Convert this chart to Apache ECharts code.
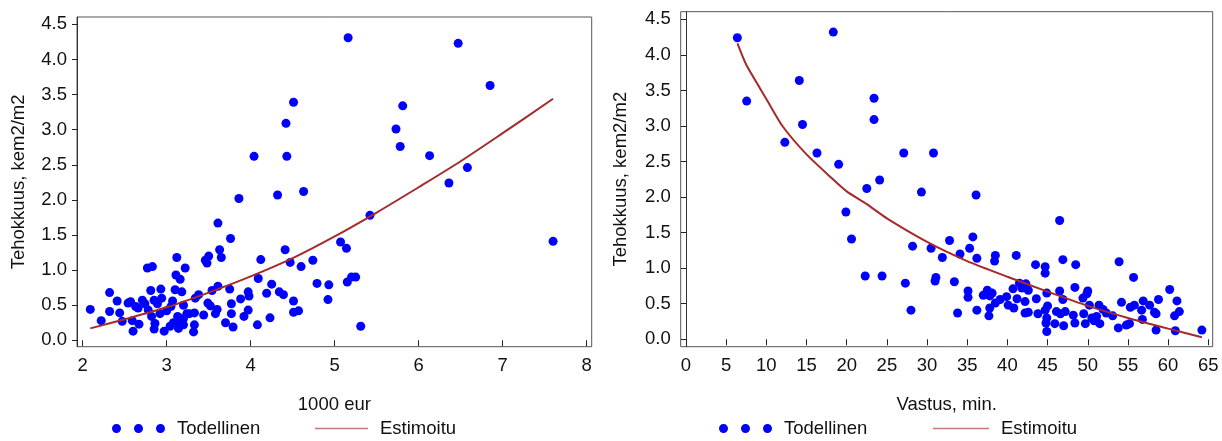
<!DOCTYPE html>
<html>
<head>
<meta charset="utf-8">
<script src="https://cdn.jsdelivr.net/npm/echarts@6/dist/echarts.min.js"></script>
<style>
  html, body { margin: 0; padding: 0; background: #fff; }
  #chart { width: 1222px; height: 441px; }
</style>
</head>
<body>
<div id="chart"></div>
<script>
// vasen kuva: tehokkuus vs 1000 eur
var todellinenEur = [
  [2.09,0.44],[2.22,0.28],[2.32,0.68],[2.32,0.41],[2.41,0.56],[2.44,0.39],[2.47,0.27],[2.54,0.53],
  [2.57,0.55],[2.60,0.13],[2.59,0.28],[2.63,0.48],[2.66,0.46],[2.67,0.23],[2.71,0.57],[2.74,0.52],
  [2.78,0.43],[2.81,0.71],[2.77,1.03],[2.83,1.05],[2.82,0.34],[2.85,0.57],[2.86,0.24],[2.85,0.16],
  [2.89,0.52],[2.92,0.38],[2.93,0.73],[2.94,0.60],[2.97,0.13],[3.00,0.42],[3.04,0.20],[3.05,0.48],
  [3.07,0.56],[3.08,0.25],[3.10,0.72],[3.11,0.93],[3.12,1.18],[3.16,0.87],[3.13,0.34],[3.13,0.27],
  [3.14,0.17],[3.18,0.69],[3.20,0.50],[3.20,0.31],[3.20,0.22],[3.22,1.03],[3.24,0.38],[3.27,0.38],
  [3.32,0.12],[3.33,0.22],[3.33,0.39],[3.34,0.60],[3.38,0.65],[3.44,0.36],[3.46,1.14],[3.48,1.10],
  [3.50,1.20],[3.49,0.53],[3.52,0.49],[3.54,0.71],[3.58,0.38],[3.60,0.44],[3.61,0.77],[3.61,1.67],
  [3.63,1.29],[3.65,1.18],[3.70,0.25],[3.75,0.73],[3.76,1.45],[3.77,0.52],[3.77,0.38],[3.79,0.19],
  [3.86,2.02],[3.88,0.59],[3.92,0.34],[3.97,0.43],[3.97,0.69],[3.98,0.63],[4.04,2.62],[4.08,0.22],
  [4.09,0.88],[4.12,1.15],[4.19,0.67],[4.23,0.32],[4.25,0.80],[4.32,2.07],[4.34,0.69],[4.39,0.65],
  [4.41,1.29],[4.42,3.09],[4.43,2.62],[4.47,1.11],[4.51,3.39],[4.51,0.56],[4.51,0.40],[4.57,0.42],
  [4.60,1.05],[4.63,2.12],[4.74,1.14],[4.79,0.81],[4.92,0.58],[4.93,0.79],[5.07,1.40],[5.14,1.31],
  [5.15,0.83],[5.16,4.31],[5.20,0.90],[5.25,0.90],[5.31,0.20],[5.42,1.78],[5.73,3.01],[5.78,2.76],
  [5.81,3.34],[6.13,2.63],[6.36,2.24],[6.47,4.23],[6.58,2.46],[6.85,3.63],[7.60,1.41]
];
var estimoituEur = [
  [2.09,0.17],[2.5,0.30],[3.0,0.47],[3.5,0.68],[4.0,0.91],[4.5,1.17],[5.0,1.48],
  [5.5,1.82],[6.0,2.18],[6.5,2.55],[7.0,2.95],[7.6,3.44]
];

// oikea kuva: tehokkuus vs vastus
var todellinenMin = [
  [6.39,4.24],[18.33,4.32],[14.1,3.64],[7.55,3.35],[23.4,3.39],[23.4,3.09],[14.5,3.02],[12.3,2.77],
  [16.3,2.62],[27.1,2.62],[30.8,2.62],[19.0,2.46],[24.1,2.24],[22.5,2.12],[29.3,2.07],[19.9,1.79],
  [20.6,1.41],[28.2,1.31],[30.5,1.28],[32.8,1.39],[31.9,1.15],[22.3,0.89],[24.4,0.89],[27.3,0.79],
  [31.1,0.87],[31.0,0.82],[28.0,0.41],[36.1,2.03],[46.5,1.67],[35.7,1.44],[35.3,1.28],[34.1,1.20],
  [36.2,1.14],[38.5,1.18],[38.4,1.10],[41.1,1.18],[43.5,1.05],[44.7,1.02],[44.7,0.93],[46.9,1.12],
  [48.5,1.05],[53.9,1.09],[55.7,0.87],[33.4,0.81],[33.8,0.37],[35.1,0.68],[35.1,0.59],[36.2,0.41],
  [37.0,0.62],[37.5,0.69],[37.8,0.61],[38.1,0.65],[37.8,0.44],[37.7,0.33],[38.5,0.51],[39.1,0.56],
  [39.9,0.60],[40.1,0.48],[40.7,0.71],[40.8,0.44],[41.2,0.57],[41.5,0.79],[41.8,0.72],[42.2,0.53],
  [42.3,0.78],[42.2,0.37],[42.6,0.69],[42.6,0.38],[43.6,0.57],[43.8,0.36],[44.7,0.41],[44.9,0.65],
  [45.0,0.47],[44.8,0.23],[44.9,0.11],[44.9,0.30],[45.9,0.22],[46.1,0.39],[46.5,0.68],[46.6,0.36],
  [46.9,0.56],[47.0,0.19],[47.2,0.39],[48.2,0.34],[48.4,0.73],[48.4,0.23],[49.4,0.58],[49.5,0.36],
  [49.7,0.22],[49.9,0.64],[50.0,0.68],[50.2,0.48],[50.5,0.30],[50.8,0.26],[51.1,0.32],[51.4,0.48],
  [51.5,0.22],[51.9,0.42],[52.3,0.37],[53.1,0.33],[53.8,0.16],[54.2,0.52],[54.8,0.20],[55.2,0.22],
  [55.3,0.45],[55.8,0.48],[56.7,0.41],[56.8,0.28],[56.9,0.54],[57.7,0.48],[58.3,0.38],[58.5,0.36],
  [58.5,0.13],[58.8,0.56],[60.2,0.70],[60.8,0.33],[61.1,0.54],[61.4,0.39],[60.9,0.12],[64.2,0.13]
];
var estimoituMin = [
  [6.4,4.16],[7.5,3.86],[10,3.38],[12,3.0],[15,2.6],[18,2.28],[20,2.08],[22.5,1.9],[25,1.7],
  [30,1.37],[35,1.1],[40,0.88],[45,0.67],[50,0.47],[55,0.3],[60,0.15],[64.2,0.03]
];

var yTicks = [0, 0.5, 1, 1.5, 2, 2.5, 3, 3.5, 4, 4.5];
var eurTicks = [2, 3, 4, 5, 6, 7, 8];
var minTicks = [0, 5, 10, 15, 20, 25, 30, 35, 40, 45, 50, 55, 60, 65];

var FONT = 'Liberation Sans';
var FS = 18.5;
var DOT = '#0000ff';
var LINE = '#a52a2a';

// kolme palloa legendaan
function dotsIcon() {
  var r = 4.5, k = 2.485, s = '';
  [4.5, 26.5, 48.5].forEach(function (cx) {
    var cy = 4.5;
    s += 'M' + (cx - r) + ',' + cy +
      'C' + (cx - r) + ',' + (cy - k) + ',' + (cx - k) + ',' + (cy - r) + ',' + cx + ',' + (cy - r) +
      'C' + (cx + k) + ',' + (cy - r) + ',' + (cx + r) + ',' + (cy - k) + ',' + (cx + r) + ',' + cy +
      'C' + (cx + r) + ',' + (cy + k) + ',' + (cx + k) + ',' + (cy + r) + ',' + cx + ',' + (cy + r) +
      'C' + (cx - k) + ',' + (cy + r) + ',' + (cx - r) + ',' + (cy + k) + ',' + (cx - r) + ',' + cy + 'Z';
  });
  return 'path://' + s;
}

function xAxisCfg(grid, min, max, ticks, name, gap) {
  return {
    type: 'value', gridIndex: grid, min: min, max: max, offset: 2,
    name: name, nameLocation: 'middle', nameGap: gap,
    nameTextStyle: { fontFamily: FONT, fontSize: FS, color: '#111' },
    splitLine: { show: false },
    axisLine: { show: false },
    axisTick: { show: true, length: 6, customValues: ticks, lineStyle: { color: '#222' } },
    axisLabel: { customValues: ticks, margin: 8, fontFamily: FONT, fontSize: FS, color: '#111' }
  };
}

function yAxisCfg(grid, min, max, gap) {
  return {
    type: 'value', gridIndex: grid, min: min, max: max,
    name: 'Tehokkuus, kem2/m2', nameLocation: 'middle', nameGap: gap,
    nameTextStyle: { fontFamily: FONT, fontSize: FS, color: '#111' },
    splitLine: { show: false },
    axisLine: { show: true, lineStyle: { color: '#333', width: 1 } },
    axisTick: { show: true, length: 5, customValues: yTicks, lineStyle: { color: '#222' } },
    axisLabel: {
      customValues: yTicks, margin: 10, fontFamily: FONT, fontSize: FS, color: '#111',
      formatter: function (v) { return v.toFixed(1); }
    }
  };
}

function legendCfg(name, left, icon, w, h, color) {
  var item = { name: name, icon: icon };
  if (color) item.itemStyle = { color: color };
  return {
    data: [item], left: left, top: 419, padding: 0, selectedMode: false,
    itemWidth: w, itemHeight: h,
    textStyle: { fontFamily: FONT, fontSize: FS, color: '#111', padding: [0, 0, 0, 7] }
  };
}

var chart = echarts.init(document.getElementById('chart'), null, { renderer: 'canvas' });
chart.setOption({
  animation: false,
  backgroundColor: '#fff',
  grid: [
    { left: 77, top: 17, width: 514.7, height: 329.7, show: true, borderColor: '#555', borderWidth: 1 },
    { left: 680.7, top: 11.7, width: 532, height: 335, show: true, borderColor: '#555', borderWidth: 1 }
  ],
  xAxis: [
    xAxisCfg(0, 1.932, 8.06, eurTicks, '1000 eur', 47),
    xAxisCfg(1, -0.66, 65.55, minTicks, 'Vastus, min.', 47)
  ],
  yAxis: [
    yAxisCfg(0, -0.091, 4.605, 49),
    yAxisCfg(1, -0.104, 4.607, 50)
  ],
  legend: [
    legendCfg('Todellinen', 112, dotsIcon(), 53, 9),
    legendCfg('Estimoitu', 315, 'rect', 53, 1.5, '#c47a7a'),
    legendCfg('Todellinen', 719, dotsIcon(), 53, 9),
    legendCfg('Estimoitu', 933, 'rect', 56, 1.5, '#c47a7a')
  ],
  series: [
    { name: 'Todellinen', type: 'scatter', xAxisIndex: 0, yAxisIndex: 0, data: todellinenEur,
      symbolSize: 9, itemStyle: { color: DOT, opacity: 1 } },
    { name: 'Estimoitu', type: 'line', xAxisIndex: 0, yAxisIndex: 0, data: estimoituEur,
      showSymbol: false, smooth: 0.3, lineStyle: { color: LINE, width: 2 }, itemStyle: { color: LINE }, z: 3 },
    { name: 'Todellinen', type: 'scatter', xAxisIndex: 1, yAxisIndex: 1, data: todellinenMin,
      symbolSize: 9, itemStyle: { color: DOT, opacity: 1 } },
    { name: 'Estimoitu', type: 'line', xAxisIndex: 1, yAxisIndex: 1, data: estimoituMin,
      showSymbol: false, smooth: 0.2, lineStyle: { color: LINE, width: 2 }, itemStyle: { color: LINE }, z: 3 }
  ]
});
</script>
</body>
</html>
